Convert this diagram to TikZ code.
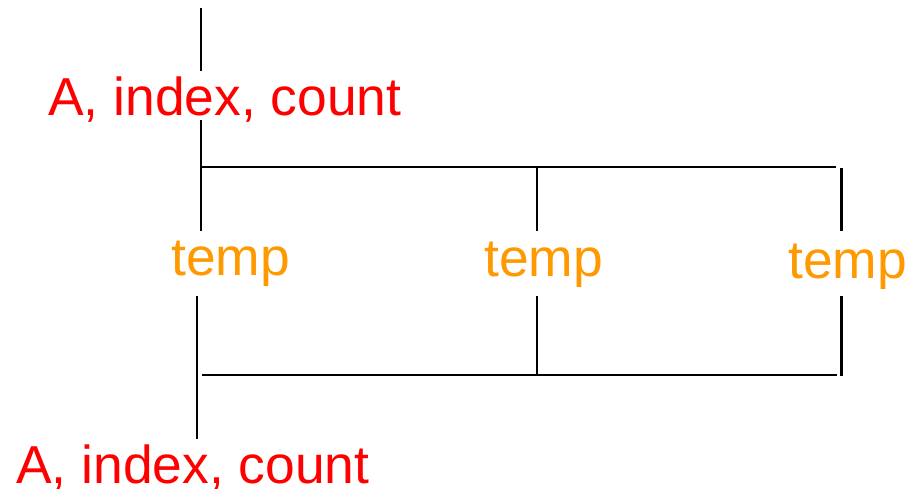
\documentclass[tikz,border=0pt]{standalone}
\usepackage{fontspec}
\setmainfont{Liberation Sans}
\definecolor{varred}{RGB}{255,0,0}
\definecolor{temporange}{RGB}{255,153,0}
\begin{document}
\begin{tikzpicture}[x=1pt,y=-1pt,
  wire/.style={draw=black,line width=2.6pt},
  varlabel/.style={text=varred,font=\fontsize{53.4}{60}\selectfont,inner sep=0pt,anchor=base west},
  templabel/.style={text=temporange,font=\fontsize{53.4}{60}\selectfont,inner sep=0pt,anchor=base west}]
  \useasboundingbox (0,0) rectangle (917,489);

  % labels
  \node[varlabel] (inTop) at (48,116) {A, index, count};
  \node[templabel] (tA) at (171,275) {temp};
  \node[templabel] (tB) at (484,276) {temp};
  \node[templabel] (tC) at (788,278) {temp};
  \node[varlabel] (outBot) at (16,483) {A, index, count};

  % line ends
  \coordinate (entry) at (201,8);
  \coordinate (aboveIn) at (201,71);
  \coordinate (belowIn) at (201,120);
  \coordinate (splitL) at (201,167);
  \coordinate (splitM) at (537,167);
  \coordinate (splitR) at (836,167);
  \coordinate (tAtop) at (201,231);
  \coordinate (tBtop) at (537,231);
  \coordinate (tCtop1) at (841.5,168);
  \coordinate (tCtop2) at (841.5,231);
  \coordinate (tAbot) at (197,296);
  \coordinate (exit) at (197,439);
  \coordinate (tBbot) at (537,296);
  \coordinate (tCbot1) at (841.5,296);
  \coordinate (tCbot2) at (841.5,376);
  \coordinate (joinL) at (202,375);
  \coordinate (joinM) at (537,375);
  \coordinate (joinR) at (837,375);

  % incoming line and split
  \draw[wire] (entry) -- (aboveIn);
  \draw[wire] (belowIn) -- (tAtop);
  \draw[wire] (splitL) -- (splitR);
  \draw[wire] (splitM) -- (tBtop);
  \draw[wire] (tCtop1) -- (tCtop2);

  % join and outgoing line
  \draw[wire] (tAbot) -- (exit);
  \draw[wire] (tBbot) -- (joinM);
  \draw[wire] (tCbot1) -- (tCbot2);
  \draw[wire] (joinL) -- (joinR);
\end{tikzpicture}
\end{document}
